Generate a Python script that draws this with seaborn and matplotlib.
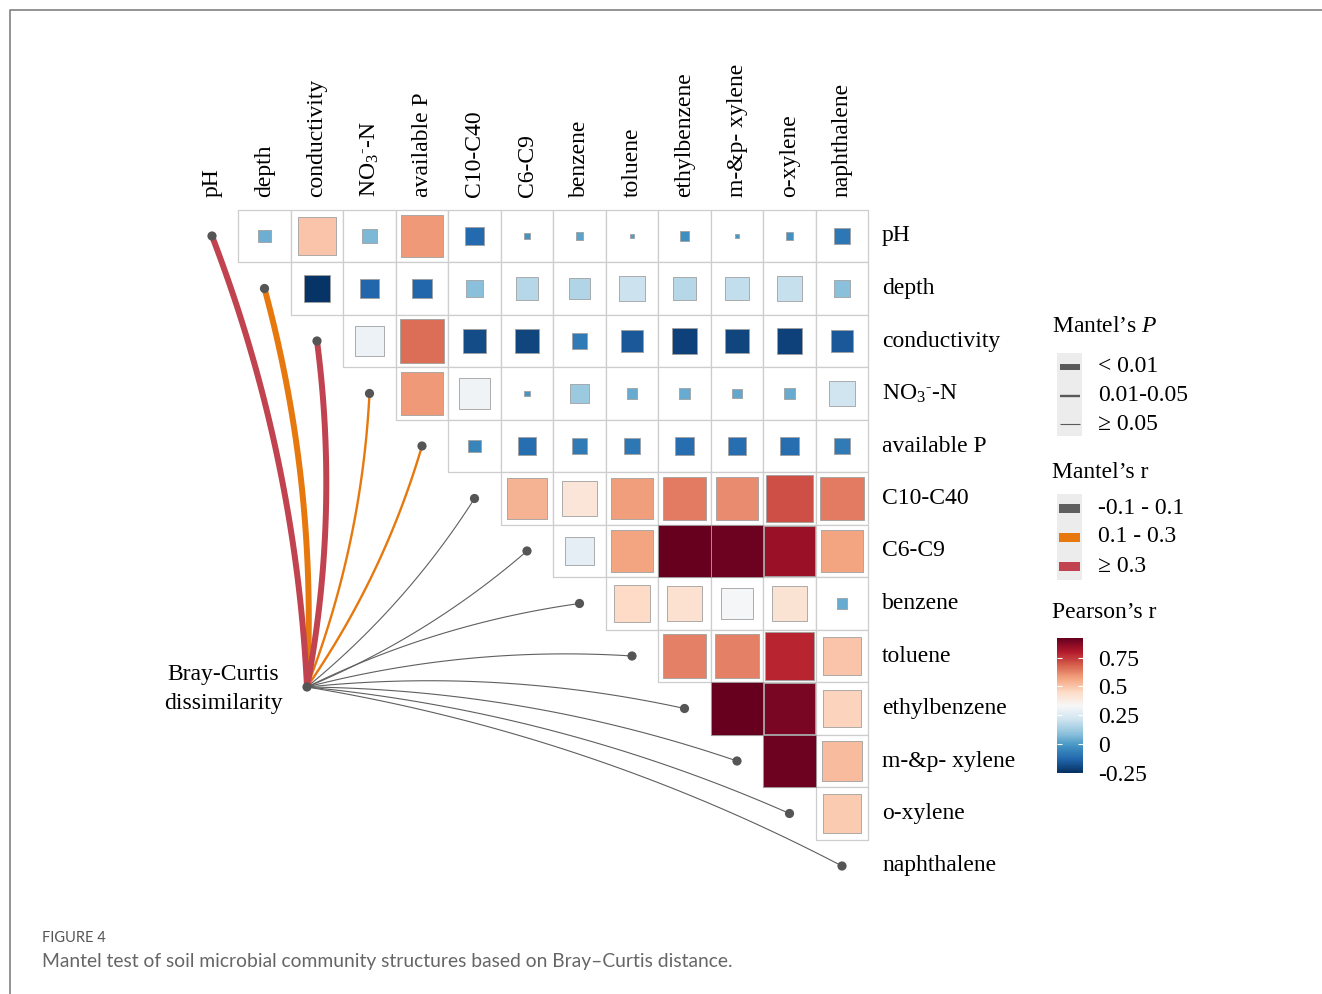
import numpy as np
import pandas as pd
import seaborn as sns
import matplotlib.pyplot as plt
from matplotlib.colors import Normalize
from matplotlib.cm import ScalarMappable
from matplotlib.lines import Line2D
from matplotlib.patches import Rectangle
from matplotlib.collections import PatchCollection

plt.rcParams["font.family"] = ["Liberation Serif", "DejaVu Serif"]
plt.rcParams["mathtext.fontset"] = "custom"
plt.rcParams["mathtext.rm"] = "Liberation Serif"
plt.rcParams["mathtext.it"] = "Liberation Serif:italic"

# ---- data ----
variables = ["pH", "depth", "conductivity", r"NO$_3$$^{\text{-}}$-N", "available P",
             "C10-C40", "C6-C9", "benzene", "toluene", "ethylbenzene",
             "m-&p- xylene", "o-xylene", "naphthalene"]

# Pearson's r, upper triangle (row i holds columns i+1 ... 12)
r_ph = [0.05, 0.50, 0.07, 0.59, -0.12, -0.015, 0.02, 0.006, -0.03, -0.006, -0.02, -0.09]
r_depth = [-0.24, -0.13, -0.13, 0.09, 0.17, 0.16, 0.21, 0.17, 0.19, 0.20, 0.09]
r_cond = [0.30, 0.66, -0.19, -0.20, -0.08, -0.16, -0.21, -0.20, -0.21, -0.16]
r_no3 = [0.59, 0.31, -0.01, 0.12, 0.04, 0.04, 0.03, 0.04, 0.22]
r_availp = [-0.05, -0.11, -0.08, -0.09, -0.11, -0.11, -0.11, -0.08]
r_c10 = [0.54, 0.41, 0.58, 0.64, 0.61, 0.71, 0.64]
r_c6 = [0.28, 0.57, 0.92, 0.91, 0.84, 0.57]
r_benzene = [0.45, 0.43, 0.33, 0.42, 0.04]
r_toluene = [0.63, 0.63, 0.78, 0.50]
r_ethyl = [0.92, 0.89, 0.47]
r_mp = [0.91, 0.52]
r_oxyl = [0.49]
pearson_rows = [r_ph, r_depth, r_cond, r_no3, r_availp, r_c10, r_c6,
                r_benzene, r_toluene, r_ethyl, r_mp, r_oxyl, []]

# Mantel test of Bray-Curtis vs each variable
mantel_r = ["≥ 0.3", "0.1 - 0.3", "≥ 0.3", "0.1 - 0.3", "0.1 - 0.3"] + ["-0.1 - 0.1"] * 8
mantel_p = ["< 0.01", "< 0.01", "< 0.01", "0.01-0.05", "0.01-0.05"] + ["≥ 0.05"] * 8

r_levels = ["-0.1 - 0.1", "0.1 - 0.3", "≥ 0.3"]
p_levels = ["< 0.01", "0.01-0.05", "≥ 0.05"]
cbar_ticks = [-0.25, 0, 0.25, 0.5, 0.75]

# ---- styles ----
R_MIN, R_MAX = -0.25, 0.92
r_colors = {"-0.1 - 0.1": "#5f5f5f", "0.1 - 0.3": "#e6780e", "≥ 0.3": "#c0434f"}
p_widths = {"< 0.01": 4.3, "0.01-0.05": 1.7, "≥ 0.05": 0.8}
CELL_PX = 52.5
CELL_PT = CELL_PX * 72 / 100
FS = 17
W, H = 1322, 994


def px_x(px):
    return (px - 212) / CELL_PX + 0.5


def px_y(py):
    return (py - 236) / CELL_PX + 0.5


fig = plt.figure(figsize=(W / 100, H / 100), dpi=100)
ax = fig.add_axes([0, 0, 1, 1])

n = len(variables)

# grid of the upper triangle
grid = [Rectangle((j, i), 1, 1) for i in range(n) for j in range(i + 1, n)]
ax.add_collection(PatchCollection(grid, facecolor="white", edgecolor="#cdcdcd",
                                  linewidth=0.9, zorder=1))

cells = pd.DataFrame(
    [(i + 1 + k + 0.5, i + 0.5, v)
     for i, row in enumerate(pearson_rows) for k, v in enumerate(row)],
    columns=["x", "y", "r"])
cells["abs_r"] = cells["r"].abs()
sns.scatterplot(data=cells, x="x", y="y", hue="r", palette="RdBu_r",
                hue_norm=(R_MIN, R_MAX), size="abs_r",
                sizes=(0, CELL_PT ** 2), size_norm=(0, R_MAX),
                marker="s", edgecolor="#a0a0a0", linewidth=0.6,
                legend=False, ax=ax, zorder=3)

# curves from Bray-Curtis to each variable
bray = np.array([px_x(307), px_y(687)])
t = np.linspace(0, 1, 80)[:, None]
order = sorted(range(n), key=lambda i: (mantel_r[i] != "-0.1 - 0.1", mantel_r[i] == "≥ 0.3"))
for i in order:
    end = np.array([i + 0.5, i + 0.5])
    d = end - bray
    L = np.hypot(*d)
    sign = 1 if i <= 6 else -1
    normal = sign * np.array([-d[1], d[0]]) / L
    ctrl = (bray + end) / 2 + 0.08 * L * normal
    pts = (1 - t) ** 2 * bray + 2 * t * (1 - t) * ctrl + t ** 2 * end
    ax.plot(pts[:, 0], pts[:, 1], color=r_colors[mantel_r[i]],
            lw=p_widths[mantel_p[i]], solid_capstyle="round", zorder=4)

nodes = pd.DataFrame({"x": [i + 0.5 for i in range(n)] + [bray[0]],
                      "y": [i + 0.5 for i in range(n)] + [bray[1]]})
sns.scatterplot(data=nodes, x="x", y="y", color="#555555", s=44,
                edgecolor="none", ax=ax, zorder=5)

# labels
for i, name in enumerate(variables):
    ax.text(i + 0.5, px_y(197), name, rotation=90, ha="center", va="bottom", fontsize=FS)
    ax.text(px_x(882), i + 0.5, name, ha="left", va="center", fontsize=FS)
ax.text(px_x(223), px_y(689), "Bray-Curtis\ndissimilarity", ha="center",
        va="center", multialignment="center", linespacing=1.45, fontsize=FS)

# legend: Mantel's P
LX = px_x(1052)
ax.text(LX, px_y(327), "Mantel’s $P$", ha="left", va="center", fontsize=FS)
ax.add_patch(Rectangle((px_x(1057), px_y(353)), 25 / CELL_PX, 83 / CELL_PX,
                       facecolor="#ececec", edgecolor="none"))
for k, lev in enumerate(p_levels):
    yy = px_y(367 + 28.5 * k)
    ax.plot([px_x(1060), px_x(1080)], [yy, yy], color="#595959", lw=p_widths[lev],
            solid_capstyle="butt")
    ax.text(px_x(1098), yy, lev, ha="left", va="center", fontsize=FS)

# legend: Mantel's r
ax.text(LX, px_y(473), "Mantel’s r", ha="left", va="center", fontsize=FS)
ax.add_patch(Rectangle((px_x(1057), px_y(494)), 25 / CELL_PX, 86 / CELL_PX,
                       facecolor="#ececec", edgecolor="none"))
for k, lev in enumerate(r_levels):
    yy = px_y(508 + 29 * k)
    ax.add_patch(Rectangle((px_x(1059), yy - 4.5 / CELL_PX), 21 / CELL_PX, 9 / CELL_PX,
                           facecolor=r_colors[lev], edgecolor="none"))
    ax.text(px_x(1098), yy, lev, ha="left", va="center", fontsize=FS)

ax.text(LX, px_y(612), "Pearson’s r", ha="left", va="center", fontsize=FS)

ax.set_xlim(px_x(0), px_x(W))
ax.set_ylim(px_y(H), px_y(0))
ax.set_axis_off()

# colourbar
cax = fig.add_axes([1057 / W, 1 - 773 / H, 26 / W, 135 / H])
cb = fig.colorbar(ScalarMappable(norm=Normalize(R_MIN, R_MAX), cmap="RdBu_r"),
                  cax=cax, ticks=cbar_ticks)
cb.outline.set_visible(False)
cb.ax.set_yticklabels([f"{v:g}" for v in cbar_ticks])
cax.tick_params(length=0, pad=11, labelsize=FS)
cax.hlines(cbar_ticks, 0, 0.2, colors="white", lw=0.8)
cax.hlines(cbar_ticks, 0.8, 1, colors="white", lw=0.8)

# frame and caption
fig.add_artist(Line2D([10 / W, 10 / W, 1], [0, 1 - 10 / H, 1 - 10 / H],
                      transform=fig.transFigure, color="#8a8a8a", lw=1.3))
fig.text(42 / W, 1 - 938 / H, "FIGURE 4", family=["Lato", "DejaVu Sans"],
         fontsize=10.5, color="#555555", va="center")
fig.text(42 / W, 1 - 962 / H,
         "Mantel test of soil microbial community structures based on Bray–Curtis distance.",
         family=["Lato", "DejaVu Sans"], fontsize=13.9, color="#666666", va="center")

fig.savefig("out.png", dpi=100)
plt.close(fig)
